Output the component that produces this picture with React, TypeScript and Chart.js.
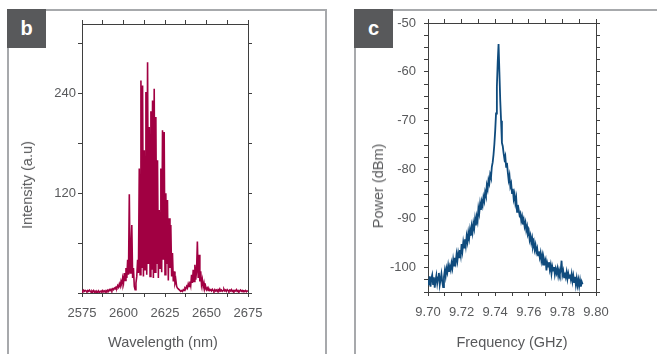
import React, { useEffect, useRef } from "react";
import { Chart, registerables } from "chart.js";

Chart.register(...registerables);

// ---------- Panel b : optical spectrum ----------
const B_WL_START = 2575; // nm
const B_WL_STEP = 0.5; // nm
// intensity (a.u.), one row = 5 nm (10 samples)
const bIntensity = [
  3, 2, 3.5, 2, 3, 2.5, 1.5, 3, 2, 3.5, // 2575
  2, 1, 2.5, 1.5, 3, 1, 2, 0.5, 2, 1, // 2580
  2.5, 0.5, 1.5, 2.5, 1, 3, 1.5, 2.5, 1, 3, // 2585
  2, 3.5, 2, 4, 3, 4.5, 3, 5, 4, 6, // 2590
  5, 7, 6, 9, 7, 11, 8, 14, 10, 18, // 2595
  12, 24, 15, 30, 18, 40, 22, 119, 24, 50, // 2600
  82, 18, 30, 8, 4, 12, 20, 40, 24, 150, // 2605
  22, 256, 30, 250, 20, 172, 28, 242, 22, 278, // 2610
  35, 200, 20, 219, 28, 232, 18, 246, 25, 212, // 2615
  35, 160, 18, 100, 30, 150, 25, 196, 40, 194, // 2620
  22, 120, 35, 112, 15, 90, 30, 82, 20, 48, // 2625
  14, 26, 12, 16, 8, 6, 5, 4, 3, 2, // 2630
  3, 2, 4, 3, 6, 5, 8, 6, 11, 8, // 2635
  14, 9, 22, 12, 28, 14, 34, 16, 26, 62, // 2640
  18, 46, 14, 26, 10, 16, 7, 12, 5, 8, // 2645
  4, 6, 3, 5, 3, 4, 2.5, 4.5, 3, 2, // 2650
  4, 2.5, 3.5, 2, 4, 3, 5, 2.5, 3.5, 2, // 2655
  3, 4.5, 2.5, 3.5, 2, 4, 3, 2, 3.5, 2.5, // 2660
  4, 2, 3, 1.5, 3, 2.5, 4, 2, 3, 1.5, // 2665
  2.5, 3.5, 2, 3, 1.5, 2.5, 2, 3, 1.5, 2.5, // 2670
  2, // 2675
];
const bXMin = 2575;
const bXMax = 2675;
const bXTickStep = 12.5;
const bXLabels = [2575, 2600, 2625, 2650, 2675];
const bYMin = 0;
const bYMax = 324;
const bYTickStep = 60;
const bYLabels = [120, 240];

// ---------- Panel c : RF spectrum ----------
const C_F_START = 9.7; // GHz
const C_F_STEP = 0.0005; // GHz
// power (dBm), one row = 0.005 GHz (10 samples)
const cPower = [
  -102.5, -103.6, -101.8, -103.9, -102.2, -101.5, -103.4, -102.0, -104.1, -102.6, // 9.700
  -101.6, -103.2, -102.0, -101.1, -103.5, -102.4, -101.3, -102.9, -104.0, -101.9, // 9.705
  -100.6, -101.8, -100.2, -101.0, -99.6, -100.9, -99.8, -100.5, -99.1, -100.1, // 9.710
  -98.4, -99.6, -98.0, -98.9, -97.3, -98.6, -97.0, -97.9, -96.4, -97.5, // 9.715
  -95.2, -96.6, -94.8, -95.9, -94.2, -95.5, -93.6, -94.7, -92.9, -94.0, // 9.720
  -92.3, -93.5, -91.6, -92.8, -91.0, -92.0, -90.1, -91.4, -89.6, -90.5, // 9.725
  -87.9, -88.9, -87.0, -88.2, -86.5, -87.3, -85.6, -86.4, -84.6, -85.3, // 9.730
  -83.2, -84.0, -82.1, -82.8, -81.0, -81.6, -79.4, -78.5, -76.9, -74.8, // 9.735
  -72.0, -68.5, -63.0, -58.0, -54.3, -60.0, -65.8, -70.0, -74.5, -75.2, // 9.740
  -76.6, -77.8, -77.2, -79.4, -78.6, -80.5, -82.1, -81.2, -83.4, -82.8, // 9.745
  -84.8, -83.9, -85.9, -85.0, -86.8, -85.8, -88.6, -87.2, -88.2, -89.3, // 9.750
  -88.9, -90.4, -89.6, -91.2, -90.3, -91.6, -90.8, -92.4, -91.6, -93.1, // 9.755
  -92.6, -94.3, -93.5, -94.9, -94.0, -95.6, -94.8, -96.3, -95.4, -96.8, // 9.760
  -96.1, -97.5, -96.7, -97.9, -97.0, -98.6, -97.6, -99.4, -98.2, -99.0, // 9.765
  -98.4, -100.6, -99.1, -99.8, -98.9, -100.4, -99.5, -101.2, -99.8, -100.6, // 9.770
  -99.9, -101.4, -100.3, -101.1, -100.2, -101.6, -100.5, -101.3, -100.6, -98.6, // 9.775
  -101.5, -100.7, -102.0, -101.0, -101.9, -100.9, -102.3, -101.2, -102.1, -101.4, // 9.780
  -102.4, -101.3, -102.8, -101.7, -103.0, -101.9, -103.5, -102.2, -103.6, -102.5, // 9.785
  -103.8, -102.6, -103.9, -102.9, -103.4, // 9.790
];
const cXMin = 9.7;
const cXMax = 9.8;
const cXTickStep = 0.01;
const cXLabels = ["9.70", "9.72", "9.74", "9.76", "9.78", "9.80"];
const cYMin = -105;
const cYMax = -50;
const cYTickStep = 2.5;
const cYLabels = [-50, -60, -70, -80, -90, -100];

const AXIS = "#3f3f3f";
const TEXT = "#58595b";
const FONT = '"Liberation Sans", Arial, Helvetica, sans-serif';

const fix = (size: number) => (scale: any) => {
  if (scale.isHorizontal()) scale.height = size;
  else scale.width = size;
};

function makeConfig(p: {
  points: { x: number; y: number }[];
  color: string;
  lineWidth: number;
  xMin: number; xMax: number; xStep: number;
  yMin: number; yMax: number; yStep: number;
  xLabel: (v: number) => string;
  yLabel: (v: number) => string;
  left: number; right: number; top: number; bottom: number;
  yPad: number;
}): any {
  const grid = { drawOnChartArea: false, color: AXIS, tickColor: AXIS, tickLength: 4, lineWidth: 1 };
  const border = { display: true, color: AXIS, width: 1 };
  const tickFont = { family: FONT, size: 13 };
  return {
    type: "line",
    data: {
      datasets: [
        {
          data: p.points,
          xAxisID: "x",
          yAxisID: "y",
          borderColor: p.color,
          borderWidth: p.lineWidth,
          pointRadius: 0,
          tension: 0,
          fill: false,
        },
      ],
    },
    options: {
      animation: false,
      responsive: false,
      maintainAspectRatio: false,
      events: [],
      layout: { padding: 0 },
      plugins: { legend: { display: false }, tooltip: { enabled: false } },
      scales: {
        x: {
          type: "linear", axis: "x", position: "bottom",
          min: p.xMin, max: p.xMax,
          grid, border,
          ticks: {
            stepSize: p.xStep, autoSkip: false, maxRotation: 0, minRotation: 0,
            includeBounds: false, padding: 9, color: TEXT, font: tickFont,
            callback: (v: number) => p.xLabel(v),
          },
          afterFit: fix(354 - p.bottom),
        },
        x2: {
          type: "linear", axis: "x", position: "top",
          min: p.xMin, max: p.xMax,
          grid, border,
          ticks: { stepSize: p.xStep, autoSkip: false, display: false, includeBounds: false },
          afterFit: fix(p.top),
        },
        y: {
          type: "linear", axis: "y", position: "left",
          min: p.yMin, max: p.yMax,
          grid, border,
          ticks: {
            stepSize: p.yStep, autoSkip: false, includeBounds: false,
            padding: p.yPad, color: TEXT, font: tickFont,
            callback: (v: number) => p.yLabel(v),
          },
          afterFit: fix(p.left),
        },
        y2: {
          type: "linear", axis: "y", position: "right",
          min: p.yMin, max: p.yMax,
          grid, border,
          ticks: { stepSize: p.yStep, autoSkip: false, display: false, includeBounds: false },
          afterFit: fix(657 - p.right),
        },
      },
    },
  };
}

const bPoints = bIntensity.map((y, i) => ({ x: B_WL_START + i * B_WL_STEP, y }));
const cPoints = cPower.map((y, i) => ({ x: C_F_START + i * C_F_STEP, y }));

const cfgB = () =>
  makeConfig({
    points: bPoints,
    color: "#a10042",
    lineWidth: 1.6,
    xMin: bXMin, xMax: bXMax, xStep: bXTickStep,
    yMin: bYMin, yMax: bYMax, yStep: bYTickStep,
    xLabel: (v) => (bXLabels.includes(Math.round(v)) && Math.abs(v - Math.round(v)) < 1e-6 ? String(Math.round(v)) : ""),
    yLabel: (v) => (bYLabels.includes(v) ? String(v) : ""),
    left: 82, right: 248, top: 24, bottom: 293,
    yPad: 2,
  });

const cfgC = () =>
  makeConfig({
    points: cPoints,
    color: "#0f4b7d",
    lineWidth: 1.8,
    xMin: cXMin, xMax: cXMax, xStep: cXTickStep,
    yMin: cYMin, yMax: cYMax, yStep: cYTickStep,
    xLabel: (v) => {
      const s = v.toFixed(2);
      return cXLabels.includes(s) ? s : "";
    },
    yLabel: (v) => (cYLabels.includes(v) ? String(v) : ""),
    left: 428, right: 596, top: 23, bottom: 292,
    yPad: 8,
  });

const titleStyle: React.CSSProperties = {
  position: "absolute",
  whiteSpace: "nowrap",
  fontSize: 14.5,
  color: TEXT,
  lineHeight: "16px",
};

export default function App() {
  const bRef = useRef<HTMLCanvasElement>(null);
  const cRef = useRef<HTMLCanvasElement>(null);

  useEffect(() => {
    const charts = [new Chart(bRef.current!, cfgB()), new Chart(cRef.current!, cfgC())];
    return () => charts.forEach((c) => c.destroy());
  }, []);

  const boxStyle: React.CSSProperties = {
    position: "absolute",
    background: "#58595b",
    color: "#fff",
    fontWeight: "bold",
    fontSize: 20,
    textAlign: "center",
    lineHeight: "38px",
  };

  return (
    <div
      style={{
        position: "fixed",
        left: 0,
        top: 0,
        width: 657,
        height: 354,
        overflow: "hidden",
        background: "#fff",
        fontFamily: FONT,
      }}
    >
      {/* panel b frame */}
      <div
        style={{
          position: "absolute",
          left: 7,
          top: 9,
          width: 316,
          height: 360,
          borderTop: "2px solid #a7a9ac",
          borderLeft: "2px solid #a7a9ac",
          borderRight: "2px solid #a7a9ac",
        }}
      />
      {/* panel c frame */}
      <div
        style={{
          position: "absolute",
          left: 354,
          top: 9,
          width: 320,
          height: 360,
          borderTop: "2px solid #a7a9ac",
          borderLeft: "2px solid #a7a9ac",
        }}
      />
      <div style={{ ...boxStyle, left: 7, top: 9, width: 39, height: 39 }}>b</div>
      <div style={{ ...boxStyle, left: 354, top: 9, width: 39, height: 39 }}>c</div>

      <canvas ref={bRef} width={657} height={354} style={{ position: "absolute", left: 0, top: 0 }} />
      <canvas ref={cRef} width={657} height={354} style={{ position: "absolute", left: 0, top: 0 }} />

      <div style={{ ...titleStyle, left: 27, top: 185, transform: "translate(-50%, -50%) rotate(-90deg)" }}>
        Intensity (a.u)
      </div>
      <div style={{ ...titleStyle, left: 163, top: 342, transform: "translate(-50%, -50%)" }}>
        Wavelength (nm)
      </div>
      <div style={{ ...titleStyle, left: 378, top: 186, transform: "translate(-50%, -50%) rotate(-90deg)" }}>
        Power (dBm)
      </div>
      <div style={{ ...titleStyle, left: 512, top: 342, transform: "translate(-50%, -50%)" }}>
        Frequency (GHz)
      </div>
    </div>
  );
}
